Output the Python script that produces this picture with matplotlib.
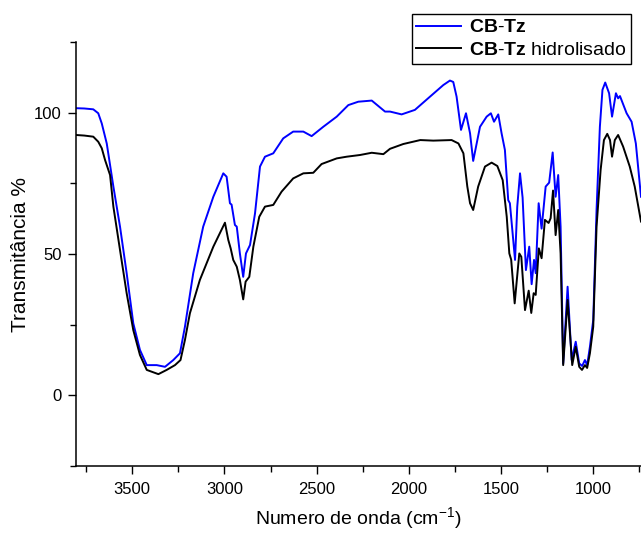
import matplotlib
matplotlib.use("Agg")
import matplotlib.pyplot as plt

plt.rcParams['font.family'] = ['Liberation Sans', 'DejaVu Sans']
plt.rcParams['mathtext.fontset'] = 'custom'
plt.rcParams['mathtext.rm'] = 'Liberation Sans'
plt.rcParams['mathtext.bf'] = 'Liberation Sans:bold'
plt.rcParams['mathtext.it'] = 'Liberation Sans:italic'

# CB-Tz (blue)
wn_cbtz = [3805, 3760, 3711, 3684, 3665, 3638, 3602, 3566, 3530, 3494, 3458, 3421,
           3367, 3322, 3277, 3241, 3214, 3169, 3115, 3060, 3006, 2988, 2970, 2961,
           2943, 2933, 2916, 2898, 2883, 2861, 2834, 2807, 2780, 2735, 2681, 2627,
           2572, 2527, 2464, 2391, 2328, 2274, 2201, 2129, 2102, 2039, 1967, 1885,
           1813, 1777, 1759, 1741, 1717, 1690, 1668, 1651, 1614, 1578, 1555, 1538,
           1515, 1497, 1479, 1461, 1452, 1424, 1412, 1397, 1383, 1365, 1347, 1334,
           1321, 1312, 1296, 1280, 1258, 1239, 1220, 1204, 1190, 1177, 1163, 1139,
           1117, 1095, 1076, 1060, 1045, 1033, 1018, 1000, 982, 964, 950, 935,
           914, 898, 877, 865, 855, 819, 792, 769, 741]
t_cbtz = [101.7, 101.6, 101.3, 99.9, 96.3, 89.2, 73.9, 59.7, 43.2, 25.4, 16.0, 10.6,
          10.6, 10.0, 12.4, 14.8, 24.2, 43.2, 59.7, 70.3, 78.6, 77.4, 68.0, 67.5,
          60.3, 59.7, 50.2, 41.9, 50.2, 53.2, 64.4, 81.0, 84.5, 85.7, 91.0, 93.4,
          93.4, 91.8, 95.1, 98.7, 102.8, 104.0, 104.4, 100.5, 100.5, 99.5, 101.1, 105.8,
          109.9, 111.5, 111.0, 105.8, 94.0, 99.9, 92.8, 83.0, 95.1, 98.7, 99.9, 96.9,
          99.5, 92.8, 86.9, 69.1, 68.0, 47.9, 66.8, 78.6, 70.0, 44.3, 52.6, 39.3,
          47.9, 43.2, 68.0, 59.0, 73.9, 75.3, 86.0, 70.3, 78.0, 59.7, 11.2, 38.4,
          12.4, 18.9, 11.2, 10.3, 12.4, 10.6, 17.1, 26.6, 65.6, 95.1, 108.2, 110.8,
          107.0, 98.7, 107.0, 105.2, 106.0, 99.9, 96.9, 89.2, 70.3]

# CB-Tz hidrolisado (black)
wn_hidro = [3805, 3760, 3711, 3684, 3665, 3647, 3620, 3602, 3566, 3530, 3494, 3458,
            3421, 3358, 3313, 3268, 3238, 3214, 3187, 3133, 3060, 2997, 2979, 2966,
            2952, 2933, 2916, 2898, 2885, 2865, 2843, 2811, 2780, 2735, 2690, 2627,
            2572, 2518, 2473, 2391, 2337, 2265, 2201, 2138, 2102, 2030, 1938, 1867,
            1768, 1731, 1704, 1683, 1668, 1651, 1624, 1587, 1551, 1520, 1491, 1469,
            1455, 1445, 1426, 1401, 1390, 1370, 1350, 1336, 1323, 1312, 1295, 1280,
            1262, 1242, 1231, 1218, 1204, 1190, 1177, 1163, 1139, 1114, 1095, 1076,
            1061, 1045, 1033, 1018, 1000, 982, 960, 942, 924, 909, 898, 883,
            865, 838, 802, 775, 741]
t_hidro = [92.2, 92.0, 91.6, 89.8, 87.5, 83.3, 78.0, 66.8, 51.4, 36.1, 23.0, 14.2,
           8.9, 7.4, 8.9, 10.6, 12.4, 19.5, 29.0, 40.8, 52.6, 61.1, 55.0, 52.0,
           47.9, 45.5, 40.8, 33.9, 40.2, 41.9, 52.6, 63.2, 66.8, 67.4, 72.1, 76.8,
           78.6, 78.8, 81.9, 83.9, 84.5, 85.1, 85.9, 85.4, 87.3, 89.0, 90.4, 90.2,
           90.4, 89.2, 85.7, 74.0, 68.0, 65.6, 73.9, 81.0, 82.4, 81.2, 76.2, 63.2,
           50.2, 48.0, 32.5, 50.2, 49.0, 30.1, 37.0, 29.1, 36.1, 35.5, 52.0, 48.5,
           62.1, 61.0, 62.7, 72.5, 56.7, 65.6, 50.2, 10.6, 33.7, 10.6, 17.1, 10.0,
           8.9, 10.6, 9.6, 14.8, 24.2, 59.7, 79.8, 90.4, 92.6, 90.4, 84.5, 90.4,
           92.2, 88.1, 81.0, 73.9, 61.5]

x_ticks = [3500, 3000, 2500, 2000, 1500, 1000]
y_ticks = [0, 50, 100]

fig = plt.figure(figsize=(6.41, 5.33), dpi=100)
ax = fig.add_axes([0.1179, 0.1266, 0.8821, 0.7937])

l1, = ax.plot(wn_cbtz, t_cbtz, color='#0000ff', lw=1.4)
l2, = ax.plot(wn_hidro, t_hidro, color='black', lw=1.4)

ax.set_xlim(3807, 741)
ax.set_ylim(-25, 125)
ax.set_xticks(x_ticks)
ax.set_xticks([3750, 3250, 2750, 2250, 1750, 1250, 750], minor=True)
ax.set_yticks(y_ticks)
ax.set_yticks([-25, 25, 75, 125], minor=True)

for s in ['top', 'right']:
    ax.spines[s].set_visible(False)
for s in ['left', 'bottom']:
    ax.spines[s].set_linewidth(1.1)

ax.tick_params(which='major', length=6, width=1.0, labelsize=12, direction='out')
ax.tick_params(which='minor', length=4, width=1.0, direction='out')
ax.tick_params(axis='x', pad=6)
ax.tick_params(axis='y', pad=4)

ax.set_xlabel(r'Numero de onda (cm$^{-1}$)', fontsize=14, labelpad=6)
ax.set_ylabel('Transmitância %', fontsize=15, labelpad=3)

leg = fig.legend([l1, l2],
                 [r'$\mathbf{CB}$' + '\u2010' + r'$\mathbf{Tz}$',
                  r'$\mathbf{CB}$' + '\u2010' + r'$\mathbf{Tz}$ hidrolisado'],
                 loc='upper right', bbox_to_anchor=(631 / 641, (533 - 14) / 533),
                 borderaxespad=0, fontsize=14, handlelength=2.3, handletextpad=0.4,
                 borderpad=0.25, labelspacing=0.25, fancybox=False, framealpha=1,
                 edgecolor='black')
leg.get_frame().set_linewidth(1.0)

fig.savefig('out.png', dpi=100)
